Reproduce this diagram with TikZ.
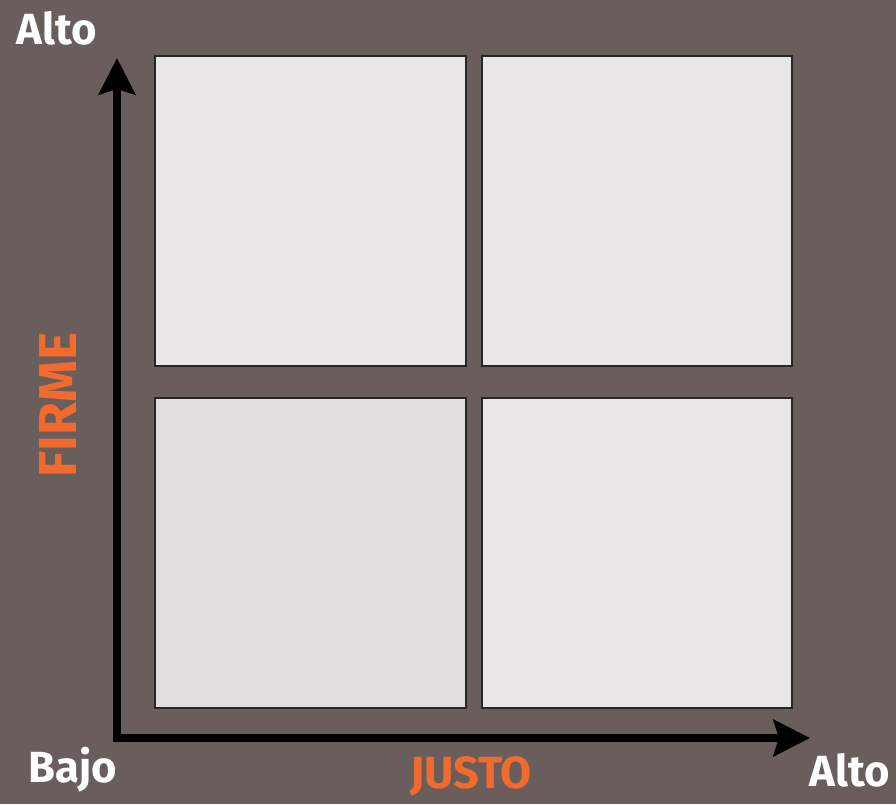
\documentclass[tikz,border=0pt]{standalone}
\usepackage{fontspec}
\setmainfont{Fira Sans}
\definecolor{bgbrown}{RGB}{106,94,92}
\definecolor{quadfill}{RGB}{232,230,230}
\definecolor{quaddark}{RGB}{226,223,222}
\definecolor{lblorange}{RGB}{242,106,46}
\usetikzlibrary{arrows.meta,positioning}

\begin{document}
\begin{tikzpicture}[
    x=0.025cm, y=-0.025cm,
    quad/.style={rectangle, draw=black!85, line width=1.5pt, fill=quadfill,
      minimum width=7.76cm, minimum height=7.74cm, inner sep=0pt},
    endlbl/.style={font=\bfseries\fontsize{31}{34}\selectfont, text=white},
    axislbl/.style={font=\bfseries\fontsize{32}{35}\selectfont, text=lblorange}
  ]
    % background
    \fill[bgbrown] (0,0) rectangle (896,804);
    \useasboundingbox (0,0) rectangle (896,804);

    % quadrants
    \node[quad] (tl) at (310.5,211) {};
    \node[quad] (tr) at (637,211)   {};
    \node[quad, fill=quaddark] (bl) at (310.5,553) {};
    \node[quad] (br) at (637,553)   {};

    % axes
    \coordinate (ytip) at (117,58);
    \coordinate (xtip) at (810,738);
    \draw[line width=5pt, {Stealth[length=26pt, width=26pt, inset=4pt]}-{Stealth[length=26pt, width=26pt, inset=4pt]}]
      (ytip) |- (xtip);

    % end labels
    \node[endlbl] (yhigh) at (57,28)  {Alto};
    \node[endlbl] (low)   at (73,770) {Bajo};
    \node[endlbl] (xhigh) at (850,770) {Alto};

    % axis names
    \node[axislbl, rotate=90, font=\bfseries\fontsize{38}{40}\selectfont] (firme) at (58,405) {FIRME};
    \node[axislbl] (justo) at (471,776) {JUSTO};
  \end{tikzpicture}
\end{document}
